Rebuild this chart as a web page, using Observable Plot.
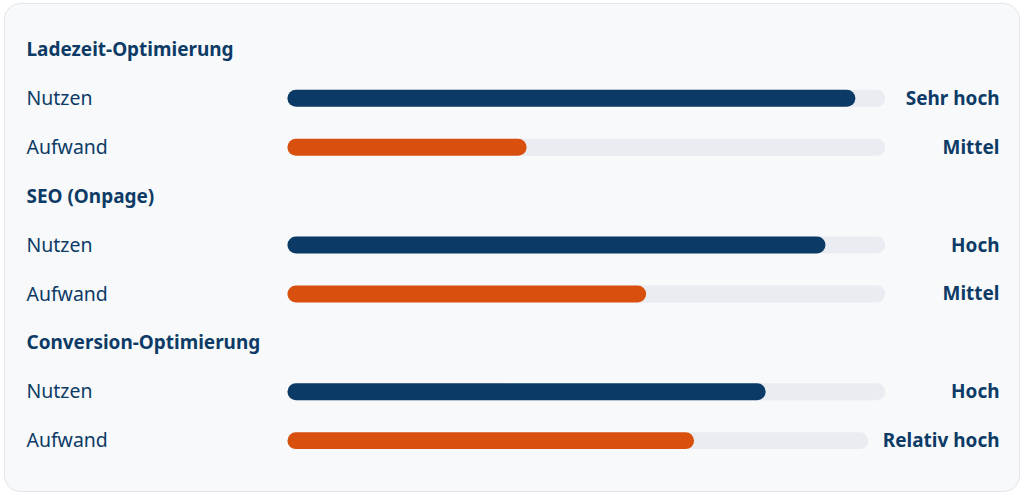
<!DOCTYPE html>
<html>
<head>
<meta charset="utf-8">
<script src="https://cdn.jsdelivr.net/npm/d3@7"></script>
<script src="https://cdn.jsdelivr.net/npm/@observablehq/plot@0.6"></script>
<style>
  html, body { margin: 0; padding: 0; background: #ffffff; }
  #card {
    position: absolute; left: 4px; top: 3px; width: 1014px; height: 487px;
    background: #f7f9fb; border: 1px solid #e3e6ea; border-radius: 16px; overflow: hidden;
  }
  #card svg { position: absolute; left: -1px; top: -1px; }
</style>
</head>
<body>
<div id="card"></div>
<script>
// ---- data ----
const groups = ["Ladezeit-Optimierung", "SEO (Onpage)", "Conversion-Optimierung"];
const metrics = ["Nutzen", "Aufwand"];
const nutzenValues = [0.95, 0.90, 0.80];
const aufwandValues = [0.40, 0.60, 0.70];
const nutzenRatings = ["Sehr hoch", "Hoch", "Hoch"];
const aufwandRatings = ["Mittel", "Mittel", "Relativ hoch"];

// ---- styles ----
const FONT = "'Noto Sans', 'Open Sans', sans-serif";
const FS = 19;
const FS_LABEL = 19.5;
const navy = "#0b3a66";
const orange = "#d9500e";
const track = "#e9ecf1";
const textColor = "#0d3b66";

const W = 1016, H = 489;
const marginLeft = 22, marginRight = 19;
const xRange = [284, 883];

// measure rating label widths to size the track (flex-like layout)
const ctx = document.createElement("canvas").getContext("2d");
ctx.font = `bold ${FS}px ${FONT}`;
const labelMin = 99, gap = 14;
function trackMaxFor(label) {
  const w = Math.max(labelMin, ctx.measureText(label).width);
  const end = Math.min(xRange[1], W - marginRight - w - gap);
  return (end - xRange[0]) / (xRange[1] - xRange[0]);
}

const titles = [];
const bars = [];
groups.forEach((g, i) => {
  titles.push({row: 3 * i, text: g});
  const vals = [nutzenValues[i], aufwandValues[i]];
  const rats = [nutzenRatings[i], aufwandRatings[i]];
  metrics.forEach((m, j) => {
    bars.push({
      row: 3 * i + 1 + j,
      metric: m,
      value: vals[j],
      rating: rats[j],
      trackMax: trackMaxFor(rats[j]),
      color: j === 0 ? navy : orange
    });
  });
});

const chart = Plot.plot({
  width: W,
  height: H,
  marginLeft, marginRight, marginTop: 0, marginBottom: 0,
  style: {background: "transparent", fontFamily: FONT, overflow: "visible"},
  x: {domain: [0, 1], range: xRange, axis: null},
  y: {type: "band", domain: d3.range(9), range: [22.5, 463.5], paddingInner: 0.653, paddingOuter: 0.3265, axis: null},
  marks: [
    Plot.barX(bars, {x1: 0, x2: "trackMax", y: "row", fill: track, rx: 8.5}),
    Plot.barX(bars, {x1: 0, x2: d => d.value * d.trackMax, y: "row", fill: "color", rx: 8.5}),
    Plot.text(titles, {y: "row", text: "text", frameAnchor: "left", textAnchor: "start", fontSize: FS, fontWeight: "bold", fill: textColor}),
    Plot.text(bars, {y: "row", text: "metric", frameAnchor: "left", textAnchor: "start", fontSize: FS_LABEL, fill: textColor}),
    Plot.text(bars, {y: "row", text: "rating", frameAnchor: "right", textAnchor: "end", fontSize: FS, fontWeight: "bold", fill: textColor})
  ]
});
document.getElementById("card").appendChild(chart);
</script>
</body>
</html>
